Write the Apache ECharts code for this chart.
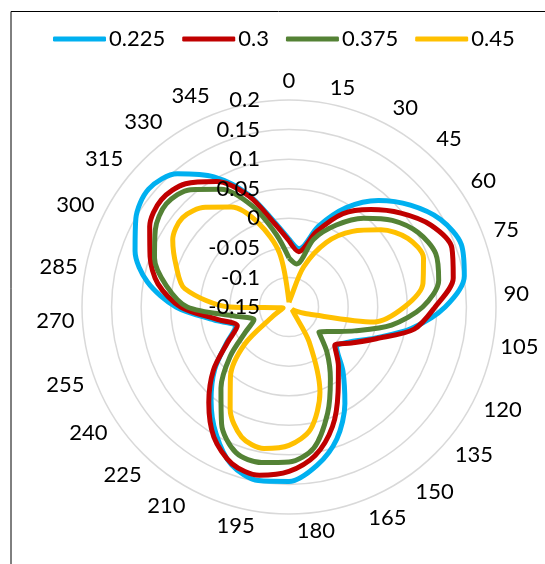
<!DOCTYPE html>
<html><head><meta charset="utf-8">
<script src="https://cdn.jsdelivr.net/npm/echarts@6/dist/echarts.min.js"></script>
<style>html,body{margin:0;padding:0;background:#fff}#c{width:545px;height:564px}</style>
</head><body><div id="c"></div>
<script>
const seriesNames = ['0.225', '0.3', '0.375', '0.45'];
const angleLabels = ['0','15','30','45','60','75','90','105','120','135','150','165','180','195','210','225','240','255','270','285','300','315','330','345'];
const radialTickLabels = ['-0.15','-0.1','-0.05','0','0.05','0.1','0.15','0.2'];
const angles = [0,10,20,30,40,50,60,70,80,90,100,110,120,130,140,150,160,170,180,190,200,210,220,230,240,250,260,270,280,290,300,310,320,330,340,350];
const s0225 = [-0.035,-0.050,-0.005,0.044,0.085,0.118,0.146,0.160,0.151,0.114,0.060,0.004,-0.032,-0.045,-0.008,0.039,0.087,0.122,0.145,0.148,0.134,0.097,0.055,0.014,-0.028,-0.054,-0.022,0.041,0.093,0.127,0.149,0.160,0.144,0.104,0.053,-0.003];
const s03 = [-0.038,-0.055,-0.015,0.032,0.065,0.097,0.127,0.143,0.132,0.097,0.065,0.007,-0.028,-0.049,-0.020,0.016,0.065,0.105,0.128,0.139,0.132,0.104,0.061,0.017,-0.030,-0.057,-0.028,0.033,0.075,0.100,0.122,0.132,0.122,0.095,0.050,-0.006];
const s0375 = [-0.067,-0.076,-0.028,0.010,0.046,0.078,0.102,0.114,0.107,0.076,0.026,-0.032,-0.067,-0.084,-0.050,-0.010,0.041,0.092,0.112,0.117,0.112,0.078,0.029,-0.020,-0.065,-0.087,-0.059,0.022,0.061,0.092,0.111,0.121,0.109,0.080,0.032,-0.025];
const s045 = [-0.142,-0.135,-0.078,-0.024,0.017,0.053,0.082,0.092,0.080,0.045,-0.004,-0.115,-0.136,-0.143,-0.138,-0.082,0.003,0.060,0.084,0.093,0.084,0.049,0.004,-0.052,-0.118,-0.135,-0.140,-0.050,0.029,0.053,0.077,0.085,0.070,0.045,0.001,-0.057];
const seriesValues = [s0225, s03, s0375, s045];
const colors = ['#00B0F0', '#C00000', '#548235', '#FFC000'];

function toPolar(vals) {
  const d = angles.map((a, i) => [vals[i], a]);
  d.push([vals[0], 360]);
  return d;
}

// Excel-style label ring: labels sit in 50 slots; right half on even slots, left half on odd slots.
const SLOTS = 50;
const slotCats = [];
for (let s = 0; s < SLOTS; s++) {
  let txt = '';
  if (s % 2 === 0 && s / 2 <= 12) txt = angleLabels[s / 2];
  else if (s % 2 === 1 && s >= 27) { const k = 13 + (s - 27) / 2; if (k < angleLabels.length) txt = angleLabels[k]; }
  slotCats.push(txt);
}

const font = 'Lato, "Open Sans", sans-serif';
const chart = echarts.init(document.getElementById('c'), null, {renderer: 'canvas'});
const center = [289, 307];
const radius = 207;
chart.setOption({
  animation: false,
  backgroundColor: '#fff',
  color: colors,
  graphic: [{
    type: 'rect', z: 100, silent: true,
    shape: {x: 11, y: 11.5, width: 620, height: 620},
    style: {fill: 'none', stroke: '#000', lineWidth: 1}
  }],
  legend: {
    data: seriesNames, top: 23, left: 48, itemWidth: 53, itemHeight: 5, itemGap: 17,
    icon: 'roundRect',
    textStyle: {fontFamily: font, fontSize: 22, color: '#000', padding: [0, 0, 0, -2]}
  },
  polar: [{center: center, radius: radius}, {center: center, radius: radius}],
  angleAxis: [{
    polarIndex: 0, type: 'value', min: 0, max: 360, interval: 15, startAngle: 90, clockwise: true,
    axisLine: {show: false}, axisTick: {show: false}, splitLine: {show: false}, axisLabel: {show: false}
  }, {
    polarIndex: 1, type: 'category', data: slotCats, boundaryGap: false, startAngle: 90, clockwise: true,
    axisLine: {show: false}, axisTick: {show: false}, splitLine: {show: false},
    axisLabel: {interval: 0, margin: 8, fontFamily: font, fontSize: 22, color: '#000'}
  }],
  radiusAxis: [{
    polarIndex: 0, type: 'value', min: -0.15, max: 0.2, interval: 0.05,
    axisLine: {show: false}, axisTick: {show: false}, axisLabel: {show: false},
    splitLine: {show: true, lineStyle: {color: '#D9D9D9', width: 1.5}}
  }, {
    polarIndex: 1, type: 'value', min: -0.15, max: 0.2, interval: 0.05, z: 10,
    axisLine: {show: false}, axisTick: {show: false}, splitLine: {show: false},
    axisLabel: {margin: 29, fontFamily: font, fontSize: 22, color: '#000',
      formatter: v => radialTickLabels[Math.round((v + 0.15) / 0.05)]}
  }],
  series: seriesNames.map((n, i) => ({
    name: n, type: 'line', coordinateSystem: 'polar', polarIndex: 0,
    showSymbol: false, symbol: 'none', smooth: 0.3,
    lineStyle: {width: 5, color: colors[i]},
    itemStyle: {color: colors[i]},
    data: toPolar(seriesValues[i])
  }))
});
</script></body></html>
